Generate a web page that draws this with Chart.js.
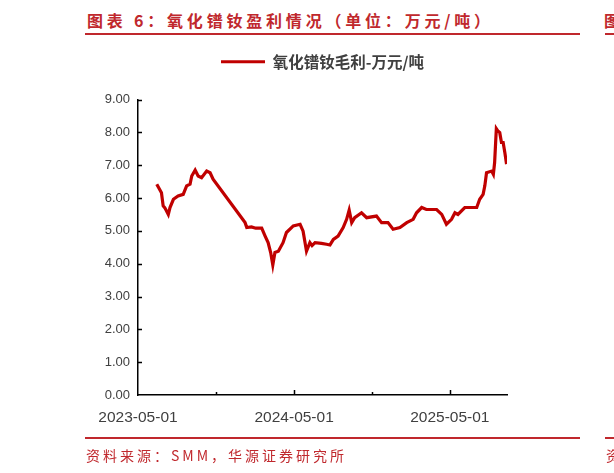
<!DOCTYPE html>
<html>
<head>
<meta charset="utf-8">
<script src="https://cdn.jsdelivr.net/npm/chart.js@4.4.1/dist/chart.umd.min.js"></script>
<style>
  html, body { margin: 0; padding: 0; background: #fff; }
  body { width: 614px; height: 473px; position: relative; overflow: hidden; }
  #chart { position: absolute; left: 0; top: 0; }
  .red { color: #c0282d; font-family: "Noto Sans CJK SC", sans-serif; position: absolute; white-space: nowrap; }
  .rule { position: absolute; background: #c0282d; height: 2px; }
  #title { left: 87px; top: 8px; font-size: 16px; font-weight: 700; letter-spacing: 3.8px; }
  #source { left: 86px; top: 445px; font-size: 14px; letter-spacing: 3px; }
</style>
</head>
<body>
<div id="title" class="red">图表 6：氧化镨钕盈利情况（单位：万元/吨）</div>
<div class="rule" style="left:85px; top:33px; width:495px;"></div>
<div class="red" style="left:604px; top:8px; font-size:16px; font-weight:700;">图</div>
<div class="rule" style="left:605px; top:33px; width:20px;"></div>
<canvas id="chart" width="614" height="473"></canvas>
<div class="rule" style="left:85px; top:437px; width:495px;"></div>
<div class="rule" style="left:605px; top:437px; width:20px;"></div>
<div id="source" class="red">资料来源：SMM，华源证券研究所</div>
<div class="red" style="left:606px; top:445px; font-size:14px;">资</div>
<script>
// data
const seriesName = "氧化镨钕毛利-万元/吨";
const dates = [
  "2023-06-14", "2023-06-25", "2023-06-29", "2023-07-03", "2023-07-11", "2023-07-15",
  "2023-07-23", "2023-08-03", "2023-08-15", "2023-08-23", "2023-08-31", "2023-09-04",
  "2023-09-12", "2023-09-19", "2023-09-27", "2023-10-09", "2023-10-17", "2023-10-24",
  "2024-01-07", "2024-01-11", "2024-01-22", "2024-02-01", "2024-02-15", "2024-02-23",
  "2024-03-01", "2024-03-07", "2024-03-12", "2024-03-17", "2024-03-25", "2024-04-05",
  "2024-04-13", "2024-04-29", "2024-05-15", "2024-05-22", "2024-05-30", "2024-06-07",
  "2024-06-12", "2024-06-19", "2024-07-04", "2024-07-16", "2024-07-24", "2024-08-01",
  "2024-08-12", "2024-08-24", "2024-09-01", "2024-09-07", "2024-09-13", "2024-09-20",
  "2024-10-06", "2024-10-18", "2024-11-10", "2024-11-22", "2024-12-07", "2024-12-19",
  "2025-01-04", "2025-01-20", "2025-02-04", "2025-02-12", "2025-02-24", "2025-03-07",
  "2025-03-31", "2025-04-12", "2025-04-23", "2025-05-05", "2025-05-13", "2025-05-20",
  "2025-06-05", "2025-07-03", "2025-07-10", "2025-07-18", "2025-07-22", "2025-07-26",
  "2025-08-07", "2025-08-11", "2025-08-14", "2025-08-18", "2025-08-21", "2025-08-26",
  "2025-08-30", "2025-09-03", "2025-09-07", "2025-09-11"
];
const margins = [
  6.42, 6.16, 5.76, 5.70, 5.50, 5.71,
  5.96, 6.06, 6.11, 6.37, 6.42, 6.67,
  6.85, 6.67, 6.62, 6.82, 6.77, 6.57,
  5.25, 5.10, 5.12, 5.08, 5.08, 4.84,
  4.64, 4.34, 3.96, 4.34, 4.38, 4.64,
  4.95, 5.15, 5.20, 4.99, 4.38, 4.64,
  4.55, 4.64, 4.62, 4.59, 4.57, 4.74,
  4.84, 5.10, 5.35, 5.63, 5.25, 5.40,
  5.55, 5.40, 5.45, 5.25, 5.25, 5.05,
  5.10, 5.25, 5.35, 5.55, 5.71, 5.65,
  5.65, 5.50, 5.20, 5.35, 5.55, 5.50,
  5.71, 5.71, 5.96, 6.11, 6.37, 6.77,
  6.82, 6.72, 7.08, 8.11, 8.05, 7.99,
  7.69, 7.69, 7.38, 7.03
];
const xTickDates = ["2023-05-01", "2023-10-31", "2024-05-01", "2024-10-31", "2025-05-01"];
const xLabelDates = ["2023-05-01", "2024-05-01", "2025-05-01"];
const xEndDate = "2025-09-12";
const yTicks = [0, 1, 2, 3, 4, 5, 6, 7, 8, 9];

const origin = Date.UTC(2023, 4, 1);
function dayOf(s) {
  const p = s.split("-");
  return Math.round((Date.UTC(+p[0], p[1] - 1, +p[2]) - origin) / 86400000);
}
const xTicks = xTickDates.map(dayOf);
const xLabelDays = xLabelDates.map(dayOf);
const points = dates.map((d, i) => ({ x: dayOf(d), y: margins[i] }));

const lineRed = "#c00000";
const textGray = "#404040";

// ticks in this chart point inward, so draw them by hand from the scales
const innerTicks = {
  id: "innerTicks",
  beforeLayout(chart) {
    const lg = chart.legend;
    if (lg && !lg._gapPatched) {
      const fit = lg.fit;
      lg.fit = function () { fit.call(this); this.height += 20; };
      lg._gapPatched = true;
    }
  },
  afterDraw(chart) {
    const { ctx, scales } = chart;
    const xs = scales.x, ys = scales.y;
    ctx.save();
    ctx.strokeStyle = "#000";
    ctx.lineWidth = 1.5;
    ctx.beginPath();
    yTicks.forEach((v) => {
      if (v === 0) return;
      const y = Math.round(ys.getPixelForValue(v)) + 0.5;
      ctx.moveTo(xs.left, y);
      ctx.lineTo(xs.left + 4, y);
    });
    xTicks.forEach((v) => {
      if (v === 0) return;
      const x = Math.round(xs.getPixelForValue(v)) + 0.5;
      const len = xLabelDays.includes(v) ? 5 : 3;
      ctx.moveTo(x, ys.bottom);
      ctx.lineTo(x, ys.bottom - len);
    });
    ctx.stroke();
    ctx.restore();
  },
};

new Chart(document.getElementById("chart"), {
  type: "line",
  plugins: [innerTicks],
  data: {
    datasets: [
      {
        label: seriesName,
        data: points,
        borderColor: lineRed,
        backgroundColor: lineRed,
        borderWidth: 3.2,
        pointRadius: 0,
        tension: 0,
      },
    ],
  },
  options: {
    responsive: false,
    animation: false,
    layout: { padding: { top: 44, left: 78, right: 107, bottom: 38 } },
    plugins: {
      tooltip: { enabled: false },
      legend: {
        display: true,
        position: "top",
        fullSize: false,
        labels: {
          boxWidth: 44,
          boxHeight: 3,
          padding: 10,
          color: textGray,
          font: { family: "'Noto Sans CJK SC', sans-serif", size: 15.5, weight: "bold" },
          generateLabels(chart) {
            return Chart.defaults.plugins.legend.labels
              .generateLabels(chart)
              .map((l) => Object.assign(l, { lineWidth: 0 }));
          },
        },
      },
    },
    scales: {
      x: {
        type: "linear",
        min: 0,
        max: dayOf(xEndDate),
        afterBuildTicks(scale) {
          scale.ticks = xTicks.map((v) => ({ value: v }));
        },
        afterFit(scale) { scale.height = 40; },
        grid: { display: false, drawTicks: false },
        border: { display: true, color: "#000", width: 1.5 },
        ticks: {
          padding: 13,
          maxRotation: 0,
          autoSkip: false,
          color: textGray,
          font: { family: "'Liberation Sans', Arial, sans-serif", size: 15.5 },
          callback(v) {
            const i = xLabelDays.indexOf(v);
            return i >= 0 ? xLabelDates[i] : "";
          },
        },
      },
      y: {
        min: 0,
        max: 9,
        afterBuildTicks(scale) {
          scale.ticks = yTicks.map((v) => ({ value: v }));
        },
        afterFit(scale) { scale.width = 60; },
        grid: { display: false, drawTicks: false },
        border: { display: true, color: "#000", width: 1.5 },
        ticks: {
          padding: 8,
          color: textGray,
          font: { family: "'Liberation Sans', Arial, sans-serif", size: 13 },
          callback: (v) => v.toFixed(2),
        },
      },
    },
  },
});
</script>
</body>
</html>
